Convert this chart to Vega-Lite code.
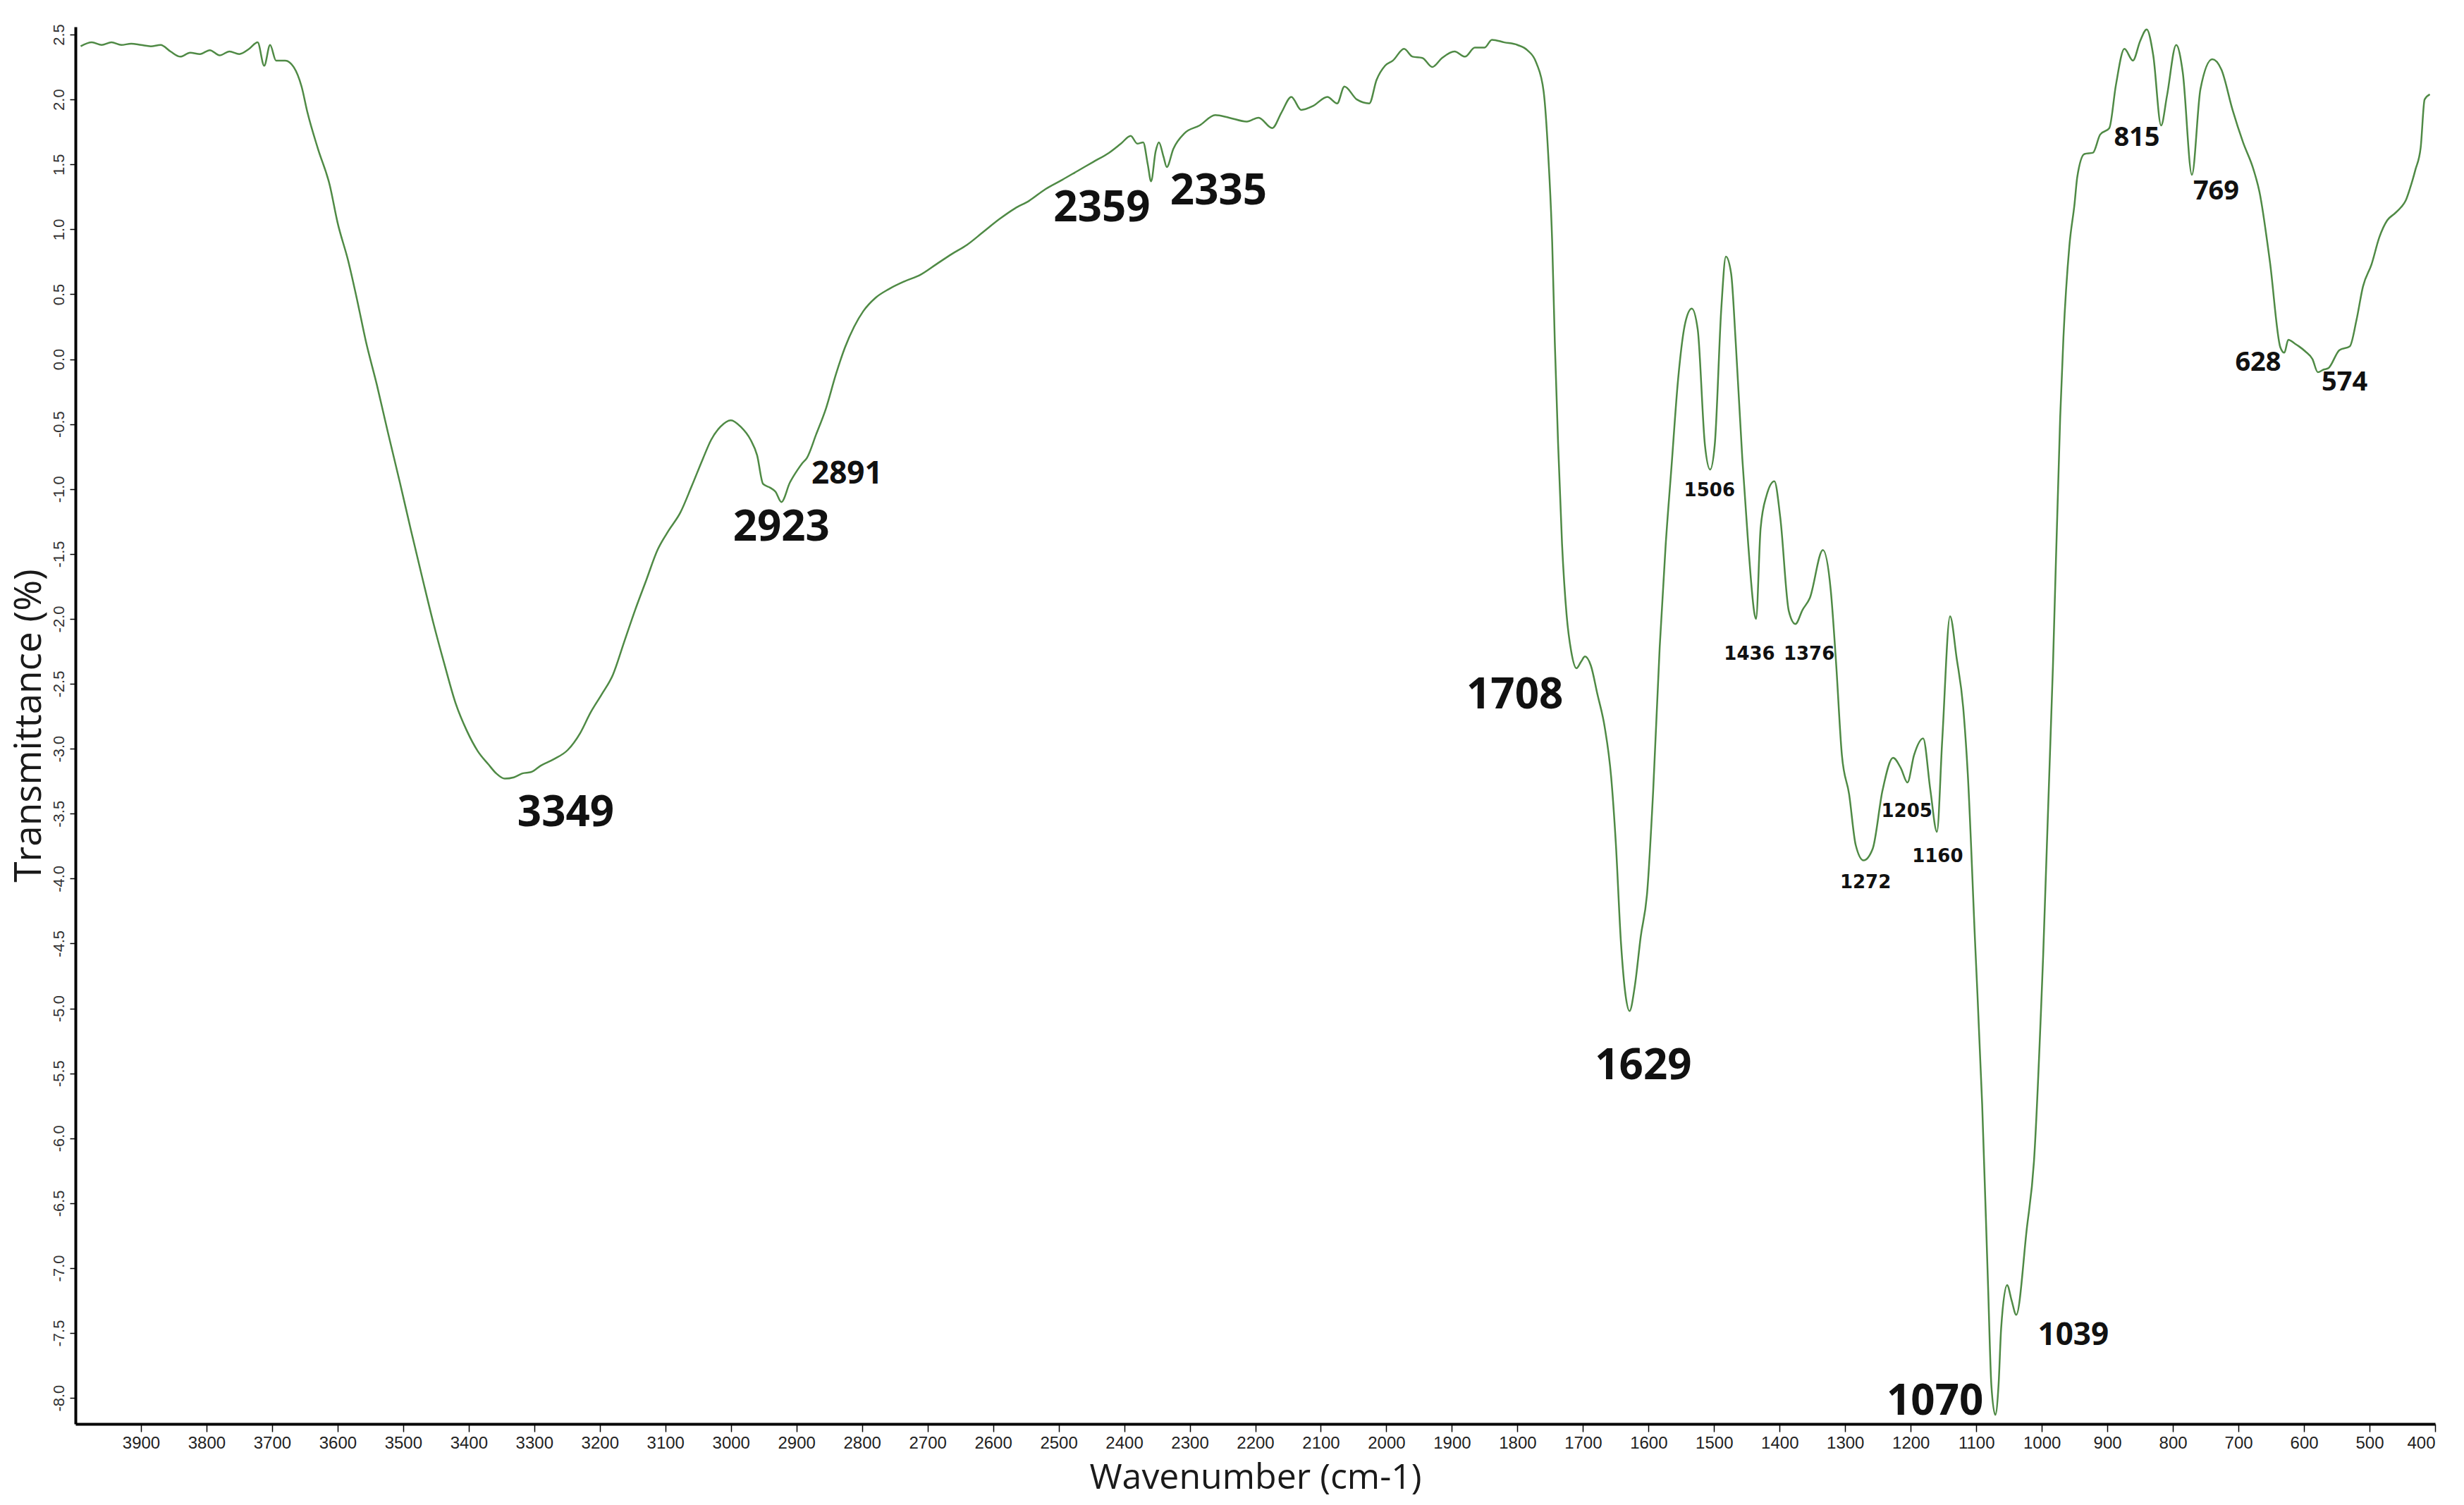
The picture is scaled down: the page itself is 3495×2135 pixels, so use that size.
{
  "$schema": "https://vega.github.io/schema/vega-lite/v6.json",
  "width": 3347,
  "height": 1982,
  "autosize": "none",
  "padding": {"left": 107, "top": 38, "right": 41, "bottom": 115},
  "background": "white",
  "config": {"view": {"stroke": null}},
  "datasets": {
    "spectrum": [
      {"wn":3992,"t":2.41},{"wn":3975,"t":2.44},{"wn":3960,"t":2.42},{"wn":3945,"t":2.44},{"wn":3930,"t":2.42},{"wn":3915,"t":2.43},{"wn":3900,"t":2.42},{"wn":3885,"t":2.41},{"wn":3870,"t":2.42},{"wn":3855,"t":2.37},{"wn":3840,"t":2.33},{"wn":3825,"t":2.36},{"wn":3810,"t":2.35},{"wn":3795,"t":2.38},{"wn":3780,"t":2.34},{"wn":3765,"t":2.37},{"wn":3750,"t":2.35},{"wn":3735,"t":2.39},{"wn":3722,"t":2.44},{"wn":3712,"t":2.26},{"wn":3703,"t":2.42},{"wn":3694,"t":2.30},{"wn":3680,"t":2.30},{"wn":3667,"t":2.25},{"wn":3655,"t":2.10},{"wn":3646,"t":1.90},{"wn":3630,"t":1.62},{"wn":3612,"t":1.34},{"wn":3600,"t":1.05},{"wn":3584,"t":0.76},{"wn":3570,"t":0.45},{"wn":3557,"t":0.14},{"wn":3540,"t":-0.2},{"wn":3523,"t":-0.57},{"wn":3505,"t":-0.95},{"wn":3488,"t":-1.32},{"wn":3470,"t":-1.70},{"wn":3454,"t":-2.03},{"wn":3437,"t":-2.35},{"wn":3420,"t":-2.65},{"wn":3403,"t":-2.86},{"wn":3386,"t":-3.02},{"wn":3370,"t":-3.12},{"wn":3358,"t":-3.19},{"wn":3345,"t":-3.23},{"wn":3331,"t":-3.22},{"wn":3318,"t":-3.19},{"wn":3305,"t":-3.18},{"wn":3290,"t":-3.13},{"wn":3270,"t":-3.08},{"wn":3249,"t":-3.01},{"wn":3230,"t":-2.88},{"wn":3214,"t":-2.72},{"wn":3197,"t":-2.58},{"wn":3180,"t":-2.43},{"wn":3163,"t":-2.18},{"wn":3146,"t":-1.93},{"wn":3129,"t":-1.70},{"wn":3112,"t":-1.47},{"wn":3095,"t":-1.32},{"wn":3077,"t":-1.18},{"wn":3060,"t":-0.98},{"wn":3043,"t":-0.77},{"wn":3030,"t":-0.62},{"wn":3016,"t":-0.52},{"wn":3000,"t":-0.47},{"wn":2985,"t":-0.52},{"wn":2970,"t":-0.62},{"wn":2960,"t":-0.74},{"wn":2951,"t":-0.96},{"wn":2940,"t":-0.99},{"wn":2932,"t":-1.02},{"wn":2923,"t":-1.10},{"wn":2910,"t":-0.95},{"wn":2898,"t":-0.85},{"wn":2891,"t":-0.80},{"wn":2884,"t":-0.76},{"wn":2870,"t":-0.58},{"wn":2855,"t":-0.38},{"wn":2840,"t":-0.12},{"wn":2826,"t":0.09},{"wn":2812,"t":0.25},{"wn":2798,"t":0.37},{"wn":2780,"t":0.47},{"wn":2759,"t":0.54},{"wn":2735,"t":0.60},{"wn":2711,"t":0.65},{"wn":2687,"t":0.73},{"wn":2663,"t":0.81},{"wn":2640,"t":0.88},{"wn":2615,"t":0.98},{"wn":2590,"t":1.08},{"wn":2567,"t":1.16},{"wn":2545,"t":1.22},{"wn":2520,"t":1.31},{"wn":2495,"t":1.38},{"wn":2471,"t":1.45},{"wn":2447,"t":1.52},{"wn":2423,"t":1.59},{"wn":2405,"t":1.66},{"wn":2390,"t":1.72},{"wn":2380,"t":1.66},{"wn":2371,"t":1.67},{"wn":2364,"t":1.50},{"wn":2359,"t":1.37},{"wn":2352,"t":1.60},{"wn":2347,"t":1.67},{"wn":2340,"t":1.56},{"wn":2335,"t":1.48},{"wn":2325,"t":1.62},{"wn":2308,"t":1.74},{"wn":2285,"t":1.80},{"wn":2261,"t":1.88},{"wn":2240,"t":1.86},{"wn":2213,"t":1.83},{"wn":2195,"t":1.86},{"wn":2174,"t":1.78},{"wn":2160,"t":1.90},{"wn":2145,"t":2.02},{"wn":2130,"t":1.92},{"wn":2112,"t":1.95},{"wn":2090,"t":2.02},{"wn":2075,"t":1.97},{"wn":2064,"t":2.10},{"wn":2045,"t":2.00},{"wn":2026,"t":1.97},{"wn":2015,"t":2.15},{"wn":2002,"t":2.26},{"wn":1990,"t":2.30},{"wn":1973,"t":2.39},{"wn":1960,"t":2.33},{"wn":1945,"t":2.32},{"wn":1930,"t":2.25},{"wn":1915,"t":2.32},{"wn":1896,"t":2.37},{"wn":1880,"t":2.33},{"wn":1865,"t":2.40},{"wn":1850,"t":2.40},{"wn":1839,"t":2.46},{"wn":1820,"t":2.44},{"wn":1800,"t":2.42},{"wn":1785,"t":2.38},{"wn":1771,"t":2.28},{"wn":1760,"t":2.06},{"wn":1753,"t":1.57},{"wn":1747,"t":0.90},{"wn":1743,"t":0.13},{"wn":1738,"t":-0.65},{"wn":1732,"t":-1.42},{"wn":1725,"t":-1.97},{"wn":1718,"t":-2.25},{"wn":1710,"t":-2.38},{"wn":1703,"t":-2.33},{"wn":1697,"t":-2.29},{"wn":1688,"t":-2.36},{"wn":1678,"t":-2.58},{"wn":1667,"t":-2.83},{"wn":1657,"t":-3.22},{"wn":1650,"t":-3.72},{"wn":1642,"t":-4.50},{"wn":1635,"t":-4.90},{"wn":1629,"t":-5.02},{"wn":1621,"t":-4.83},{"wn":1612,"t":-4.45},{"wn":1602,"t":-4.10},{"wn":1593,"t":-3.33},{"wn":1583,"t":-2.22},{"wn":1574,"t":-1.44},{"wn":1565,"t":-0.83},{"wn":1555,"t":-0.16},{"wn":1544,"t":0.28},{"wn":1534,"t":0.39},{"wn":1525,"t":0.23},{"wn":1514,"t":-0.66},{"wn":1506,"t":-0.85},{"wn":1499,"t":-0.66},{"wn":1489,"t":0.39},{"wn":1482,"t":0.79},{"wn":1474,"t":0.66},{"wn":1467,"t":0.13},{"wn":1457,"t":-0.76},{"wn":1448,"t":-1.42},{"wn":1438,"t":-1.97},{"wn":1436,"t":-2.00},{"wn":1429,"t":-1.30},{"wn":1420,"t":-1.05},{"wn":1408,"t":-0.94},{"wn":1399,"t":-1.22},{"wn":1386,"t":-1.94},{"wn":1376,"t":-2.04},{"wn":1365,"t":-1.93},{"wn":1354,"t":-1.84},{"wn":1334,"t":-1.47},{"wn":1322,"t":-1.78},{"wn":1314,"t":-2.33},{"wn":1305,"t":-3.05},{"wn":1294,"t":-3.35},{"wn":1284,"t":-3.74},{"wn":1272,"t":-3.86},{"wn":1258,"t":-3.77},{"wn":1243,"t":-3.32},{"wn":1227,"t":-3.07},{"wn":1215,"t":-3.15},{"wn":1205,"t":-3.26},{"wn":1195,"t":-3.05},{"wn":1181,"t":-2.92},{"wn":1170,"t":-3.32},{"wn":1160,"t":-3.64},{"wn":1152,"t":-2.94},{"wn":1140,"t":-1.98},{"wn":1130,"t":-2.30},{"wn":1120,"t":-2.68},{"wn":1113,"t":-3.19},{"wn":1102,"t":-4.47},{"wn":1091,"t":-5.74},{"wn":1082,"t":-7.14},{"wn":1077,"t":-7.90},{"wn":1071,"t":-8.13},{"wn":1066,"t":-7.90},{"wn":1062,"t":-7.46},{"wn":1053,"t":-7.13},{"wn":1046,"t":-7.25},{"wn":1039,"t":-7.36},{"wn":1023,"t":-6.70},{"wn":1012,"t":-6.18},{"wn":998,"t":-4.60},{"wn":983,"t":-2.36},{"wn":972,"t":-0.45},{"wn":967,"t":0.17},{"wn":958,"t":0.87},{"wn":950,"t":1.20},{"wn":946,"t":1.40},{"wn":935,"t":1.58},{"wn":922,"t":1.59},{"wn":911,"t":1.73},{"wn":897,"t":1.78},{"wn":887,"t":2.11},{"wn":874,"t":2.39},{"wn":861,"t":2.30},{"wn":850,"t":2.45},{"wn":840,"t":2.54},{"wn":830,"t":2.34},{"wn":818,"t":1.80},{"wn":809,"t":2.03},{"wn":795,"t":2.42},{"wn":785,"t":2.21},{"wn":771,"t":1.42},{"wn":758,"t":2.08},{"wn":740,"t":2.31},{"wn":726,"t":2.23},{"wn":709,"t":1.92},{"wn":693,"t":1.67},{"wn":677,"t":1.46},{"wn":668,"t":1.29},{"wn":652,"t":0.75},{"wn":636,"t":0.09},{"wn":630,"t":0.05},{"wn":624,"t":0.15},{"wn":614,"t":0.12},{"wn":608,"t":0.10},{"wn":598,"t":0.06},{"wn":587,"t":0.00},{"wn":579,"t":-0.10},{"wn":570,"t":-0.08},{"wn":563,"t":-0.07},{"wn":546,"t":0.07},{"wn":530,"t":0.10},{"wn":520,"t":0.30},{"wn":510,"t":0.56},{"wn":497,"t":0.73},{"wn":485,"t":0.94},{"wn":473,"t":1.07},{"wn":462,"t":1.12},{"wn":452,"t":1.17},{"wn":445,"t":1.22},{"wn":438,"t":1.32},{"wn":430,"t":1.46},{"wn":422,"t":1.63},{"wn":416,"t":2.00},{"wn":408,"t":2.04}
    ],
    "peaks": [
      {"label":"3349","wn":3252,"t":-3.5,"g":"L"},
      {"label":"2923","wn":2923,"t":-1.3,"g":"L"},
      {"label":"2359","wn":2434,"t":1.16,"g":"L"},
      {"label":"2335","wn":2256,"t":1.29,"g":"L"},
      {"label":"1708","wn":1804,"t":-2.59,"g":"L"},
      {"label":"1629","wn":1608,"t":-5.45,"g":"L"},
      {"label":"1070","wn":1163,"t":-8.03,"g":"L"},
      {"label":"2891","wn":2823,"t":-0.89,"g":"M"},
      {"label":"1039","wn":952,"t":-7.52,"g":"M"},
      {"label":"815","wn":855,"t":1.7,"g":"N"},
      {"label":"769","wn":734,"t":1.29,"g":"N"},
      {"label":"628","wn":670,"t":-0.03,"g":"N"},
      {"label":"574","wn":538,"t":-0.18,"g":"N"},
      {"label":"1506","wn":1507,"t":-1.01,"g":"S"},
      {"label":"1436","wn":1446,"t":-2.27,"g":"S"},
      {"label":"1376","wn":1355,"t":-2.27,"g":"S"},
      {"label":"1272","wn":1269,"t":-4.03,"g":"S"},
      {"label":"1205","wn":1206,"t":-3.48,"g":"S"},
      {"label":"1160","wn":1159,"t":-3.83,"g":"S"}
    ]
  },
  "encoding": {
    "x": {
      "field": "wn", "type": "quantitative",
      "scale": {"domain": [400, 4000], "reverse": true, "nice": false, "zero": false},
      "axis": {
        "title": "Wavenumber (cm-1)",
        "values": [3900,3800,3700,3600,3500,3400,3300,3200,3100,3000,2900,2800,2700,2600,2500,2400,2300,2200,2100,2000,1900,1800,1700,1600,1500,1400,1300,1200,1100,1000,900,800,700,600,500,400],
        "format": "d",
        "grid": false,
        "domainColor": "#000000", "domainWidth": 4,
        "tickColor": "#000000", "tickSize": 11, "tickWidth": 1.5,
        "labelFont": "Liberation Sans Narrow, Liberation Sans, Arial", "labelFontSize": 24, "labelColor": "#222222", "labelPadding": 4,
        "labelOverlap": false,
        "titleFont": "Open Sans", "titleFontSize": 50, "titleFontWeight": "normal", "titleColor": "#1a1a1a", "titlePadding": 12
      }
    },
    "y": {
      "field": "t", "type": "quantitative",
      "scale": {"domain": [-8.2, 2.56], "nice": false, "zero": false},
      "axis": {
        "title": "Transmittance (%)",
        "values": [2.5,2.0,1.5,1.0,0.5,0.0,-0.5,-1.0,-1.5,-2.0,-2.5,-3.0,-3.5,-4.0,-4.5,-5.0,-5.5,-6.0,-6.5,-7.0,-7.5,-8.0],
        "labelExpr": "replace(format(datum.value, '.1f'), '\u2212', '-')",
        "grid": false,
        "domainColor": "#000000", "domainWidth": 4,
        "tickColor": "#000000", "tickSize": 8, "tickWidth": 1.5,
        "labelAngle": -90, "labelAlign": "center", "labelBaseline": "bottom",
        "labelFont": "Liberation Sans Narrow, Liberation Sans, Arial", "labelFontSize": 22, "labelColor": "#333333", "labelPadding": 4,
        "labelOverlap": false,
        "titleFont": "Open Sans", "titleFontSize": 53, "titleFontWeight": "normal", "titleColor": "#1a1a1a", "titlePadding": 4
      }
    }
  },
  "layer": [
    {
      "data": {"name": "spectrum"},
      "mark": {"type": "line", "color": "#4f8a45", "strokeWidth": 2.5, "interpolate": "monotone"}
    },
    {
      "data": {"name": "peaks"},
      "transform": [{"filter": "datum.g == 'L'"}],
      "mark": {"type": "text", "font": "Open Sans", "fontWeight": "bold", "fontSize": 60, "color": "#111111", "align": "center", "baseline": "middle"},
      "encoding": {"text": {"field": "label"}}
    },
    {
      "data": {"name": "peaks"},
      "transform": [{"filter": "datum.g == 'M'"}],
      "mark": {"type": "text", "font": "Open Sans", "fontWeight": "bold", "fontSize": 44, "color": "#111111", "align": "center", "baseline": "middle"},
      "encoding": {"text": {"field": "label"}}
    },
    {
      "data": {"name": "peaks"},
      "transform": [{"filter": "datum.g == 'N'"}],
      "mark": {"type": "text", "font": "Open Sans", "fontWeight": "bold", "fontSize": 38, "color": "#111111", "align": "center", "baseline": "middle"},
      "encoding": {"text": {"field": "label"}}
    },
    {
      "data": {"name": "peaks"},
      "transform": [{"filter": "datum.g == 'S'"}],
      "mark": {"type": "text", "font": "DejaVu Sans", "fontWeight": "bold", "fontSize": 26, "color": "#111111", "align": "center", "baseline": "middle"},
      "encoding": {"text": {"field": "label"}}
    }
  ]
}
